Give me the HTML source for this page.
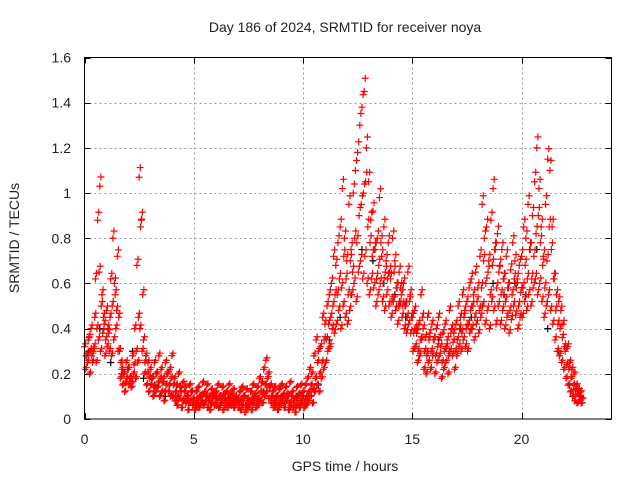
<!DOCTYPE html>
<html><head><meta charset="utf-8"><style>
body{margin:0;background:#fff;}
svg{display:block;font-family:"Liberation Sans",sans-serif;}
</style></head><body>
<svg id="chart" width="640" height="480">
<rect width="640" height="480" fill="#fff"/>
<g id="grid"></g>
<g id="ticks"></g>
<g id="marks"></g>
<rect x="84.5" y="57.5" width="527" height="361.5" fill="none" stroke="#000" stroke-width="1"/>
<text x="345" y="32" text-anchor="middle" font-size="14" fill="#222">Day 186 of 2024, SRMTID for receiver noya</text>
<text x="345" y="471" text-anchor="middle" font-size="14" fill="#222">GPS time / hours</text>
<text transform="translate(19,238) rotate(-90)" text-anchor="middle" font-size="14" fill="#222">SRMTID / TECUs</text>
</svg>
<script>
const xTicks=[0,5,10,15,20];
const yTicks=[0,0.2,0.4,0.6,0.8,1,1.2,1.4,1.6];
const yTickLabels=["0","0.2","0.4","0.6","0.8","1","1.2","1.4","1.6"];
const t0=0, dt=0.1;
const redA=[0.32,0.28,0.36,0.40,0.30,0.62,0.88,1.03,0.55,0.42,
0.48,0.38,0.62,0.80,0.55,0.72,0.30,0.22,0.20,0.25,
0.22,0.18,0.28,0.40,0.68,1.07,0.88,0.35,0.28,0.25,
0.22,0.18,0.25,0.20,0.28,0.22,0.18,0.25,0.20,0.22,
0.28,0.18,0.15,0.20,0.12,0.16,0.14,0.10,0.15,0.12,
0.08,0.12,0.14,0.10,0.16,0.12,0.15,0.10,0.13,0.11,
0.12,0.15,0.10,0.14,0.09,0.12,0.15,0.11,0.13,0.10,
0.09,0.12,0.14,0.10,0.13,0.08,0.12,0.15,0.11,0.14,
0.18,0.16,0.22,0.26,0.20,0.15,0.12,0.14,0.10,0.13,
0.15,0.11,0.14,0.10,0.16,0.12,0.09,0.14,0.11,0.15,
0.12,0.15,0.18,0.22,0.20,0.28,0.35,0.30,0.32,0.45,
0.42,0.50,0.55,0.60,0.72,0.68,0.78,0.85,1.02,0.80,
0.70,0.95,0.75,1.00,1.10,1.18,1.30,1.38,1.45,1.20,
1.05,0.88,0.92,0.75,0.80,0.98,0.72,0.85,0.70,0.78,
0.62,0.80,0.70,0.58,0.65,0.55,0.60,0.50,0.65,0.55,
0.45,0.48,0.38,0.42,0.55,0.40,0.36,0.45,0.38,0.42,
0.35,0.40,0.45,0.32,0.38,0.42,0.35,0.48,0.40,0.38,
0.42,0.50,0.45,0.55,0.48,0.52,0.58,0.62,0.55,0.65,
0.58,0.72,0.95,0.80,0.85,0.70,0.88,1.02,0.75,0.82,
0.68,0.75,0.62,0.72,0.58,0.66,0.78,0.70,0.62,0.68,
0.72,0.85,0.80,0.95,0.75,0.90,1.05,1.20,1.02,0.85,
0.72,0.95,1.15,1.10,0.85,0.62,0.55,0.52,0.48,0.42,
0.30,0.32,0.25,0.22,0.20,0.15,0.13,0.12];
const redB=[0.22,0.25,0.20,0.28,0.32,0.25,0.35,0.30,0.38,0.28,
0.32,0.30,0.28,0.35,0.40,0.30,0.18,0.15,0.12,0.18,
0.15,0.14,0.20,0.18,0.25,0.40,0.30,0.20,0.15,0.12,
0.15,0.10,0.12,0.14,0.10,0.12,0.08,0.15,0.12,0.10,
0.10,0.08,0.06,0.09,0.05,0.08,0.07,0.04,0.08,0.06,
0.04,0.06,0.05,0.07,0.06,0.08,0.05,0.04,0.07,0.06,
0.06,0.05,0.07,0.04,0.06,0.05,0.07,0.06,0.05,0.07,
0.05,0.04,0.06,0.03,0.05,0.06,0.04,0.07,0.05,0.06,
0.08,0.07,0.10,0.12,0.09,0.07,0.05,0.06,0.04,0.06,
0.07,0.05,0.08,0.04,0.06,0.05,0.03,0.06,0.05,0.07,
0.05,0.06,0.08,0.10,0.07,0.12,0.15,0.12,0.18,0.22,
0.25,0.30,0.32,0.40,0.38,0.42,0.48,0.40,0.50,0.45,
0.42,0.48,0.55,0.60,0.52,0.65,0.70,0.62,0.72,0.60,
0.55,0.62,0.58,0.50,0.55,0.60,0.52,0.48,0.55,0.50,
0.45,0.52,0.48,0.42,0.50,0.45,0.40,0.38,0.42,0.38,
0.30,0.32,0.25,0.28,0.35,0.22,0.20,0.25,0.22,0.28,
0.20,0.25,0.28,0.18,0.22,0.25,0.20,0.30,0.28,0.22,
0.28,0.32,0.30,0.35,0.32,0.30,0.38,0.40,0.35,0.42,
0.38,0.45,0.50,0.42,0.48,0.40,0.52,0.48,0.42,0.50,
0.42,0.48,0.40,0.45,0.38,0.44,0.50,0.46,0.40,0.45,
0.45,0.52,0.48,0.55,0.50,0.58,0.62,0.55,0.60,0.52,
0.45,0.50,0.55,0.48,0.42,0.35,0.30,0.28,0.25,0.22,
0.18,0.15,0.12,0.10,0.08,0.07,0.08,0.07];
const redC=[0.28,0.35,0.30,0.25,0.45,0.40,0.65,0.50,0.45,0.35,
0.40,0.45,0.50,0.60,0.48,0.45,0.25,0.20,0.16,0.22,
0.18,0.16,0.24,0.30,0.45,0.85,0.55,0.25,0.20,0.18,
0.18,0.14,0.20,0.16,0.18,0.16,0.12,0.20,0.15,0.18,
0.15,0.12,0.10,0.14,0.08,0.12,0.10,0.07,0.12,0.09,
0.06,0.09,0.10,0.08,0.11,0.10,0.09,0.07,0.10,0.09,
0.09,0.10,0.08,0.11,0.07,0.09,0.10,0.08,0.09,0.08,
0.07,0.08,0.10,0.06,0.09,0.07,0.08,0.10,0.08,0.09,
0.12,0.11,0.15,0.18,0.14,0.10,0.08,0.10,0.07,0.09,
0.10,0.08,0.11,0.07,0.10,0.08,0.06,0.10,0.08,0.10,
0.08,0.10,0.12,0.15,0.13,0.18,0.25,0.20,0.25,0.35,
0.35,0.42,0.45,0.50,0.55,0.55,0.62,0.58,0.72,0.62,
0.55,0.70,0.65,0.80,0.78,0.90,0.95,1.00,1.05,0.85,
0.78,0.72,0.75,0.62,0.68,0.78,0.60,0.65,0.62,0.65,
0.52,0.65,0.58,0.50,0.58,0.50,0.50,0.45,0.52,0.45,
0.38,0.40,0.30,0.35,0.45,0.30,0.28,0.35,0.30,0.35,
0.28,0.32,0.36,0.25,0.30,0.32,0.28,0.38,0.34,0.30,
0.35,0.40,0.38,0.45,0.40,0.42,0.48,0.50,0.45,0.52,
0.48,0.58,0.70,0.60,0.65,0.55,0.68,0.75,0.58,0.65,
0.55,0.62,0.52,0.58,0.48,0.55,0.62,0.58,0.50,0.56,
0.58,0.68,0.62,0.75,0.62,0.72,0.82,0.90,0.78,0.68,
0.58,0.70,0.85,0.75,0.62,0.48,0.42,0.40,0.36,0.32,
0.24,0.22,0.18,0.15,0.13,0.11,0.10,0.09];
const blackT0=0, blackDt=0.5;
const black=[0.30,0.40,0.25,0.20,0.30,0.18,0.15,0.10,0.08,0.09,0.07,0.08,0.06,0.07,0.08,0.09,0.12,0.08,0.07,0.10,0.08,0.15,0.35,0.45,0.55,0.75,0.70,0.60,0.55,0.45,0.38,0.30,0.35,0.30,0.40,0.45,0.50,0.60,0.55,0.60,0.55,0.75,0.40,0.30,0.15,0.10];

const X0=84.5, PXH=21.85, Y0=419, PXU=(419-57.5)/1.6;
function xs(h){return X0+h*PXH;}
function ys(v){return Y0-v*PXU;}
const NS="http://www.w3.org/2000/svg";
const grid=document.getElementById('grid'), ticks=document.getElementById('ticks'), marks=document.getElementById('marks');
function line(p,x1,y1,x2,y2,st,dash){const l=document.createElementNS(NS,'line');l.setAttribute('x1',x1);l.setAttribute('y1',y1);l.setAttribute('x2',x2);l.setAttribute('y2',y2);l.setAttribute('stroke',st);if(dash)l.setAttribute('stroke-dasharray',dash);p.appendChild(l);return l;}
function text(x,y,s,anchor){const t=document.createElementNS(NS,'text');t.setAttribute('x',x);t.setAttribute('y',y);t.setAttribute('text-anchor',anchor);t.setAttribute('font-size','14');t.setAttribute('fill','#222');t.textContent=s;ticks.appendChild(t);return t;}
xTicks.forEach(h=>{const x=Math.round(xs(h))+0.5;
 if(h>0){const g=line(grid,x,57.5,x,419,'#999','2,3');}
 line(ticks,x,419,x,413,'#000');line(ticks,x,57.5,x,63.5,'#000');
 const t=text(xs(h),444,String(h),'middle');
 
 
});
yTicks.forEach((v,i)=>{const y=Math.round(ys(v))+0.5;
 if(v>0&&v<1.6){const g=line(grid,84.5,y,611.5,y,'#999','2,3');}
 line(ticks,84.5,y,90.5,y,'#000');line(ticks,611.5,y,605.5,y,'#000');
 const t=text(71,ys(v)+5,yTickLabels[i],'end');
 
 
});
function plus(h,v,color,name){const x=xs(h),y=ys(v);const g=document.createElementNS(NS,'path');
 g.setAttribute('d',`M${x-3.5},${y}H${x+3.5}M${x},${y-3.5}V${y+3.5}`);g.setAttribute('stroke',color);g.setAttribute('stroke-width','1.2');
 
 
 marks.appendChild(g);}
black.forEach((v,i)=>plus(blackT0+i*blackDt+0.2,v,'#000','black-point'));
[redA,redB,redC].forEach((arr,k)=>arr.forEach((v,i)=>{
 plus(t0+i*dt+k*0.033,v,'#f00','red-point');
 plus(t0+i*dt+k*0.033+0.05,v*1.04,'#f00','red-point');
}));
</script>
</body></html>
